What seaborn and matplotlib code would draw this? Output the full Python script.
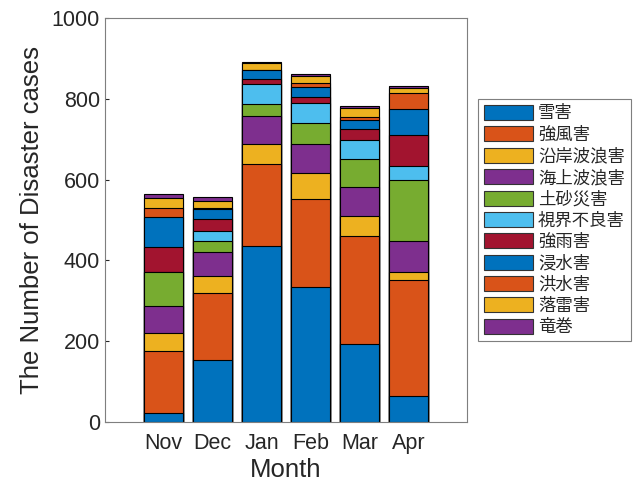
import numpy as np
import pandas as pd
import matplotlib
matplotlib.use("Agg")
import matplotlib.pyplot as plt
from matplotlib.patches import Patch
import seaborn as sns

# months and disaster categories
months = ["Nov", "Dec", "Jan", "Feb", "Mar", "Apr"]
categories = ["雪害", "強風害", "沿岸波浪害", "海上波浪害", "土砂災害", "視界不良害",
              "強雨害", "浸水害", "洪水害", "落雷害", "竜巻"]

# counts per category, one list per month (bottom to top)
nov = [23, 153, 44, 68, 82, 0, 64, 74, 22, 25, 9]
dec = [152, 168, 40, 61, 28, 24, 29, 24, 3, 19, 9]
jan = [435, 203, 50, 69, 29, 50, 13, 22, 1, 16, 4]
feb = [335, 218, 64, 71, 53, 48, 15, 26, 10, 17, 4]
mar = [193, 266, 51, 71, 70, 47, 27, 23, 6, 22, 7]
apr = [63, 288, 21, 76, 151, 35, 76, 64, 40, 13, 5]

# matlab default color order
matlab_colors = ["#0072BD", "#D95319", "#EDB120", "#7E2F8E", "#77AC30", "#4DBEEE", "#A2142F"]
colors = [matlab_colors[i % 7] for i in range(len(categories))]

#Build a table of cumulative sums for stacking
counts = pd.DataFrame([nov, dec, jan, feb, mar, apr], index=months, columns=categories)
cum = counts.cumsum(axis=1)

sns.set_style("ticks")
plt.rcParams["font.family"] = ["Liberation Sans", "Noto Sans CJK JP", "DejaVu Sans"]

fig = plt.figure(figsize=(6.4, 4.86), dpi=100)
ax = fig.add_axes([0.164, 0.132, 0.566, 0.831])

#Draw from the top segment down so lower ones sit on top
for i in range(len(categories) - 1, -1, -1):
    sns.barplot(x=months, y=cum[categories[i]].values, order=months,
                color=colors[i], saturation=1, width=0.8,
                edgecolor="black", linewidth=0.8, ax=ax)

ax.set_xlim(-1.2, 6.2)
ax.set_ylim(0, 1000)
ax.set_yticks(np.arange(0, 1001, 200))
ax.tick_params(direction="in", labelsize=15.5, colors="#262626", length=3)
ax.tick_params(axis="x", pad=8)
ax.set_xlabel("Month", fontsize=18.5, color="#262626", labelpad=3)
ax.set_ylabel("The Number of Disaster cases", fontsize=18.5, color="#262626", labelpad=6)
for s in ax.spines.values():
    s.set_visible(True)
    s.set_color("#7f7f7f")
    s.set_linewidth(0.8)

handles = [Patch(facecolor=colors[i], edgecolor="#333333", linewidth=0.8)
           for i in range(len(categories))]
leg = ax.legend(handles, categories, loc="upper left", bbox_to_anchor=(1.03, 0.80),
                fontsize=12.5, handlelength=2.8, handleheight=0.95, labelspacing=0.28,
                handletextpad=0.3, borderpad=0.35, fancybox=False, framealpha=1,
                edgecolor="#7f7f7f", borderaxespad=0)
leg.get_frame().set_linewidth(0.8)

fig.savefig("out.png", dpi=100)
